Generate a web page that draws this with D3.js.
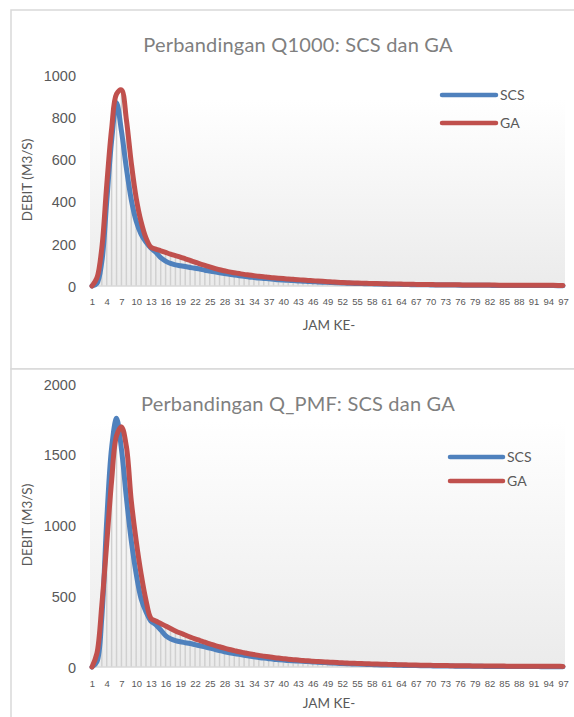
<!DOCTYPE html>
<html>
<head>
<meta charset="utf-8">
<script src="https://cdn.jsdelivr.net/npm/d3@7"></script>
<style>
  body { margin: 0; background: #fff; }
  svg { display: block; font-family: Lato, "Open Sans", sans-serif; }
  .frame { fill: #fff; stroke: #d9d9d9; stroke-width: 1.5; }
  .title { fill: #7f7f7f; }
  .axis-title { fill: #595959; }
  .y-axis .tick text { fill: #595959; font-size: 14.5px; }
  .x-axis .tick text { fill: #595959; font-size: 9.5px; }
  .x-axis .domain { stroke: #d9d9d9; stroke-width: 1.5; }
  .drop { stroke: #d0d0d0; stroke-width: 1.5; }
  .series { fill: none; stroke-width: 5; stroke-linejoin: round; stroke-linecap: round; }
  .legend text { fill: #595959; font-size: 14px; }
</style>
</head>
<body>
<svg id="chart" width="574" height="717"></svg>
<script>
// jam ke- (hour index)
const jamKe = [
  1, 2, 3, 4, 5, 6, 7, 8, 9, 10, 11, 12, 13, 14, 15, 16, 17, 18, 19, 20,
  21, 22, 23, 24, 25, 26, 27, 28, 29, 30, 31, 32, 33, 34, 35, 36, 37, 38, 39, 40,
  41, 42, 43, 44, 45, 46, 47, 48, 49, 50, 51, 52, 53, 54, 55, 56, 57, 58, 59, 60,
  61, 62, 63, 64, 65, 66, 67, 68, 69, 70, 71, 72, 73, 74, 75, 76, 77, 78, 79, 80,
  81, 82, 83, 84, 85, 86, 87, 88, 89, 90, 91, 92, 93, 94, 95, 96, 97,
];

// Q1000 (m3/s)
const q1000Scs = [
  0, 12, 115, 400, 690, 868, 735, 560, 410, 308, 246, 208, 180, 160, 134, 118, 107, 100, 96, 92,
  88, 84, 80, 75, 71, 67, 63, 59, 55, 52, 49, 46, 43, 40.5, 38, 36, 34, 32, 30, 28.5,
  27, 25.5, 24, 22.8, 21.6, 20.4, 19.3, 18.2, 17.2, 16.2, 15.3, 14.4, 13.6, 12.8, 12.1, 11.4, 10.8, 10.2, 9.6, 9.1,
  8.6, 8.1, 7.7, 7.3, 6.9, 6.5, 6.2, 5.9, 5.6, 5.3, 5.0, 4.8, 4.6, 4.4, 4.2, 4.0, 3.8, 3.6, 3.5, 3.3,
  3.2, 3.0, 2.9, 2.8, 2.7, 2.6, 2.5, 2.4, 2.3, 2.2, 2.1, 2.0, 1.9, 1.8, 1.8, 1.7, 1.6,
];
const q1000Ga = [
  0, 38, 180, 478, 745, 910, 930, 790, 585, 418, 305, 228, 184, 175, 167, 159, 151, 144, 137, 129,
  121, 113, 105, 98, 91, 84, 77, 72, 67, 63, 59, 55, 52, 49, 46, 44, 41, 39, 37, 35,
  33, 31.5, 30, 28, 26.5, 25, 23.5, 22, 20.5, 19, 17.5, 16.5, 15.5, 14.8, 14, 13.3, 12.6, 12, 11.4, 10.8,
  10.3, 9.8, 9.3, 8.9, 8.5, 8.1, 7.7, 7.4, 7.1, 6.8, 6.5, 6.2, 6.0, 5.8, 5.6, 5.4, 5.2, 5.0, 4.8, 4.7,
  4.5, 4.4, 4.2, 4.1, 4.0, 3.9, 3.8, 3.7, 3.6, 3.5, 3.4, 3.3, 3.2, 3.1, 3.0, 2.9, 2.8,
];

// Q_PMF (m3/s)
const qPmfScs = [
  0, 37, 352, 1035, 1550, 1758, 1540, 1200, 894, 660, 484, 390, 325, 300, 262, 222, 200, 187, 178, 172,
  166, 158, 150, 142, 134, 125, 116, 108, 101, 95, 89, 83, 77, 72, 67, 63, 59, 55, 52, 49,
  46, 44, 42, 40, 38, 36, 34, 32, 30, 28, 26, 24.5, 23, 21.7, 20.4, 19.2, 18.1, 17, 16, 15,
  14.1, 13.3, 12.5, 11.8, 11.1, 10.4, 9.8, 9.2, 8.7, 8.2, 7.7, 7.3, 6.9, 6.5, 6.1, 5.8, 5.5, 5.2, 4.9, 4.6,
  4.4, 4.2, 4.0, 3.8, 3.6, 3.4, 3.2, 3.1, 3.0, 2.9, 2.8, 2.7, 2.6, 2.5, 2.4, 2.3, 2.2,
];
const qPmfGa = [
  0, 96, 437, 871, 1317, 1634, 1697, 1560, 1176, 894, 660, 472, 345, 325, 308, 290, 272, 255, 240, 226,
  212, 199, 187, 175, 164, 153, 143, 133, 124, 116, 108, 101, 94, 88, 82, 77, 72, 67, 63, 59,
  55, 52, 49, 46, 44, 41, 39, 37, 35, 33, 31, 29.5, 28, 26.6, 25.3, 24, 22.8, 21.7, 20.6, 19.6,
  18.6, 17.7, 16.8, 16, 15.2, 14.4, 13.7, 13, 12.4, 11.8, 11.2, 10.7, 10.2, 9.7, 9.3, 8.9, 8.5, 8.1, 7.8, 7.5,
  7.2, 6.9, 6.6, 6.4, 6.2, 6.0, 5.8, 5.6, 5.4, 5.2, 5.0, 4.9, 4.8, 4.7, 4.6, 4.5, 4.4,
];

const q1000Ticks = [0, 200, 400, 600, 800, 1000];
const qPmfTicks = [0, 500, 1000, 1500, 2000];
const seriesNames = ['SCS', 'GA'];
const seriesColors = ['#4f81bd', '#c0504d'];

const panels = [
  {
    id: 'q1000',
    title: 'Perbandingan Q1000: SCS dan GA',
    series: [q1000Scs, q1000Ga],
    ticks: q1000Ticks,
    frame: { top: 10, height: 359 },
    yRange: [286, 75],
    plotTop: 100,
    titleY: 52,
    xTickY: 302,
    xTitleY: 330,
    yTitleY: 180,
    legend: { x1: 442, x2: 496, y: 95, gap: 28 },
  },
  {
    id: 'qpmf',
    title: 'Perbandingan Q_PMF: SCS dan GA',
    series: [qPmfScs, qPmfGa],
    ticks: qPmfTicks,
    frame: { top: 369, height: 360 },
    yRange: [667, 384],
    plotTop: 421,
    titleY: 411,
    xTickY: 684,
    xTitleY: 708,
    yTitleY: 525,
    legend: { x1: 450, x2: 503, y: 457, gap: 24 },
  },
];

const svg = d3.select('#chart');
const defs = svg.append('defs');
const grad = defs.append('linearGradient')
  .attr('id', 'plot-fill')
  .attr('x1', 0).attr('y1', 0)
  .attr('x2', 0).attr('y2', 1);
grad.append('stop').attr('offset', '0%').attr('stop-color', '#ffffff');
grad.append('stop').attr('offset', '100%').attr('stop-color', '#ebebeb');

const x = d3.scalePoint()
  .domain(jamKe)
  .range([92, 563]);

panels.forEach((panel) => drawPanel(svg, panel));

function drawPanel(svg, panel) {
  const g = svg.append('g').attr('class', `panel ${panel.id}`);
  const y = d3.scaleLinear()
    .domain(d3.extent(panel.ticks))
    .range(panel.yRange);
  const baseY = y(0);

  g.append('rect')
    .attr('class', 'frame')
    .attr('x', 11)
    .attr('y', panel.frame.top)
    .attr('width', 580)
    .attr('height', panel.frame.height);

  g.append('rect')
    .attr('x', 90)
    .attr('y', panel.plotTop)
    .attr('width', 475)
    .attr('height', baseY - panel.plotTop)
    .attr('fill', 'url(#plot-fill)');

  g.append('text')
    .attr('class', 'title')
    .attr('x', 298)
    .attr('y', panel.titleY)
    .attr('text-anchor', 'middle')
    .style('font-size', '20px')
    .style('letter-spacing', '0.2px')
    .text(panel.title);

  // drop lines down to the category axis
  const tops = jamKe.map((d, i) => d3.max(panel.series, (s) => s[i]));
  g.append('g')
    .selectAll('line')
    .data(jamKe)
    .join('line')
    .attr('class', 'drop')
    .attr('x1', (d) => x(d))
    .attr('x2', (d) => x(d))
    .attr('y1', baseY)
    .attr('y2', (d, i) => y(tops[i]));

  const yAxis = g.append('g')
    .attr('class', 'y-axis')
    .attr('transform', 'translate(76,0)')
    .call(d3.axisLeft(y)
      .tickValues(panel.ticks)
      .tickFormat(d3.format('d'))
      .tickSize(0)
      .tickPadding(0));
  yAxis.select('.domain').remove();
  yAxis.selectAll('.tick text').attr('dy', '0.36em');

  const xAxis = g.append('g')
    .attr('class', 'x-axis')
    .attr('transform', `translate(0,${baseY})`)
    .call(d3.axisBottom(x)
      .tickValues(jamKe.filter((d, i) => i % 3 === 0))
      .tickSize(0)
      .tickPadding(0));
  xAxis.select('.domain').attr('d', 'M90,0H565');
  xAxis.selectAll('.tick text')
    .attr('y', panel.xTickY - baseY)
    .attr('dy', '0.36em');

  g.append('text')
    .attr('class', 'axis-title')
    .attr('x', 329)
    .attr('y', panel.xTitleY)
    .attr('text-anchor', 'middle')
    .style('font-size', '13.5px')
    .text('JAM KE-');

  g.append('text')
    .attr('class', 'axis-title')
    .attr('transform', `translate(32,${panel.yTitleY}) rotate(-90)`)
    .attr('text-anchor', 'middle')
    .style('font-size', '13.5px')
    .text('DEBIT (M3/S)');

  const line = d3.line()
    .x((d, i) => x(jamKe[i]))
    .y((d) => y(d))
    .curve(d3.curveCatmullRom.alpha(0.5));

  g.append('g')
    .selectAll('path')
    .data(panel.series)
    .join('path')
    .attr('class', 'series')
    .attr('stroke', (d, i) => seriesColors[i])
    .attr('d', line);

  const legend = g.append('g').attr('class', 'legend');
  const item = legend.selectAll('g')
    .data(seriesNames)
    .join('g')
    .attr('transform', (d, i) => `translate(0,${panel.legend.y + i * panel.legend.gap})`);
  item.append('line')
    .attr('x1', panel.legend.x1)
    .attr('x2', panel.legend.x2)
    .attr('stroke', (d, i) => seriesColors[i])
    .attr('stroke-width', 4.5)
    .attr('stroke-linecap', 'round');
  item.append('text')
    .attr('x', panel.legend.x2 + 4)
    .attr('dy', '0.36em')
    .text((d) => d);
}
</script>
</body>
</html>
